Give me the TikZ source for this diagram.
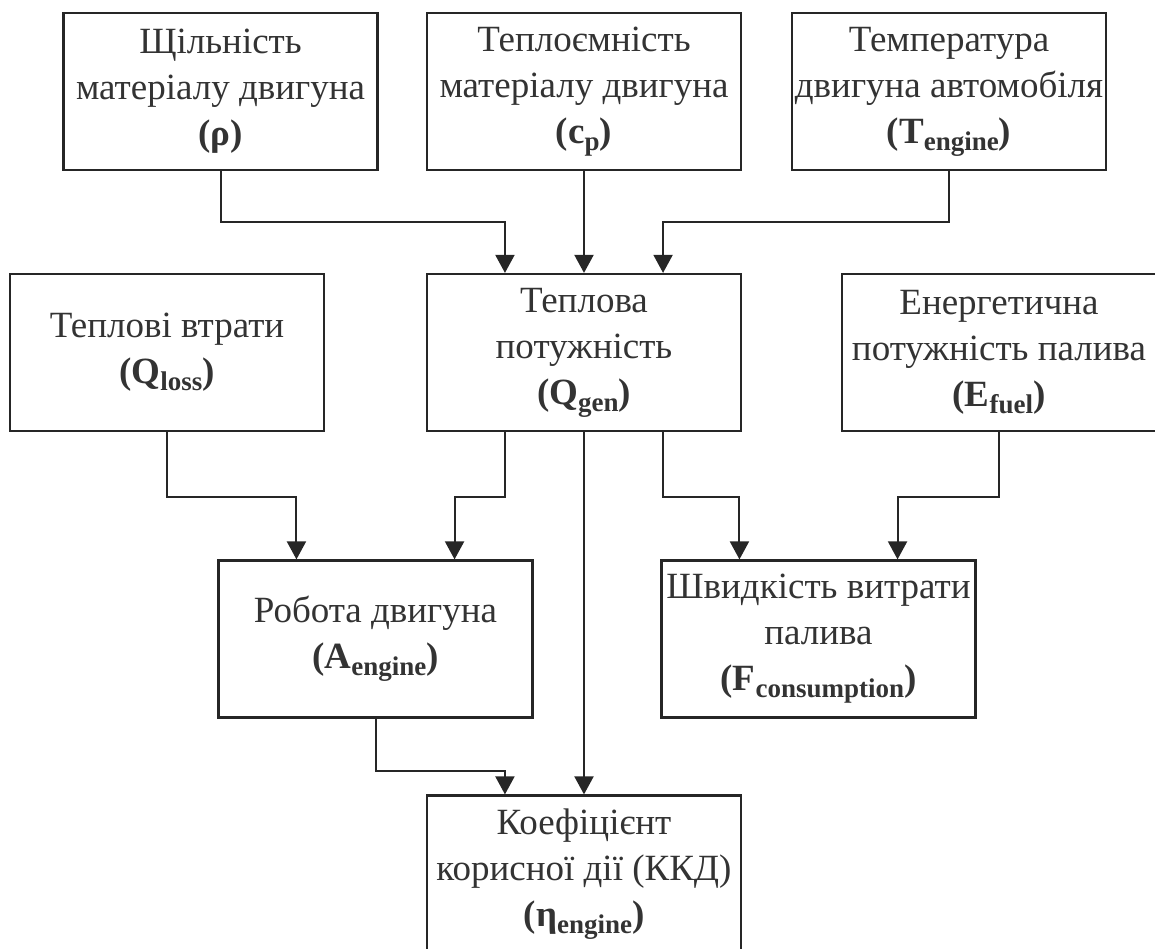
\documentclass[tikz,border=0pt]{standalone}
\usepackage{fontspec}
\setmainfont{Liberation Serif}
\usetikzlibrary{calc,arrows.meta}
\newcommand\subx[1]{\raisebox{-7pt}{\fontsize{27}{27}\selectfont\bfseries #1}}
\begin{document}
\begin{tikzpicture}[x=1pt,y=-1pt,
  box/.style={draw=black!85, line width=2.2pt, minimum width=314pt, minimum height=157pt,
    align=center, inner sep=0pt, text=black!80, font=\fontsize{37}{46}\selectfont},
  arr/.style={draw=black!85, line width=2pt, -{Triangle[width=19pt,length=18pt]}}]
\useasboundingbox (0,0) rectangle (1155,949);
\clip (0,0) rectangle (1155,949);
\node[box] (rho) at (220.5,91.5) {Щільність\\матеріалу двигуна\\\textbf{(ρ)}};
\node[box] (cp) at (584,91.5) {Теплоємність\\матеріалу двигуна\\\textbf{(c\subx{p})}};
\node[box] (temp) at (949,91.5) {Температура\\двигуна автомобіля\\\textbf{(T\subx{engine})}};
\node[box] (qloss) at (167,352.5) {Теплові втрати\\\textbf{(Q\subx{loss})}};
\node[box] (qgen) at (584,352.5) {Теплова\\потужність\\\textbf{(Q\subx{gen})}};
\node[box] (efuel) at (999,352.5) {Енергетична\\потужність палива\\\textbf{(E\subx{fuel})}};
\node[box] (aeng) at (375.5,639) {Робота двигуна\\\textbf{(A\subx{engine})}};
\node[box] (fcons) at (818.5,639) {Швидкість витрати\\палива\\\textbf{(F\subx{consumption})}};
\node[box] (kkd) at (584,874) {Коефіцієнт\\корисної дії (ККД)\\\textbf{(η\subx{engine})}};
% attachment points
\coordinate (qA) at ($(qgen.north west)!0.25!(qgen.north east)$);
\coordinate (qC) at ($(qgen.north west)!0.75!(qgen.north east)$);
\coordinate (qAs) at ($(qgen.south west)!0.25!(qgen.south east)$);
\coordinate (qCs) at ($(qgen.south west)!0.75!(qgen.south east)$);
\coordinate (aA) at ($(aeng.north west)!0.25!(aeng.north east)$);
\coordinate (aC) at ($(aeng.north west)!0.75!(aeng.north east)$);
\coordinate (fA) at ($(fcons.north west)!0.25!(fcons.north east)$);
\coordinate (fC) at ($(fcons.north west)!0.75!(fcons.north east)$);
\coordinate (kA) at ($(kkd.north west)!0.25!(kkd.north east)$);
% connectors
\draw[arr] (rho.south) -- ++(0,51) -| (qA);
\draw[arr] (cp.south) -- (qgen.north);
\draw[arr] (temp.south) -- ++(0,51) -| (qC);
\draw[arr] (qloss.south) -- ++(0,65) -| (aA);
\draw[arr] (qAs) -- ++(0,65) -| (aC);
\draw[arr] (qgen.south) -- (kkd.north);
\draw[arr] (qCs) -- ++(0,65) -| (fA);
\draw[arr] (efuel.south) -- ++(0,65) -| (fC);
\draw[arr] (aeng.south) -- ++(0,52) -| (kA);
\end{tikzpicture}
\end{document}
